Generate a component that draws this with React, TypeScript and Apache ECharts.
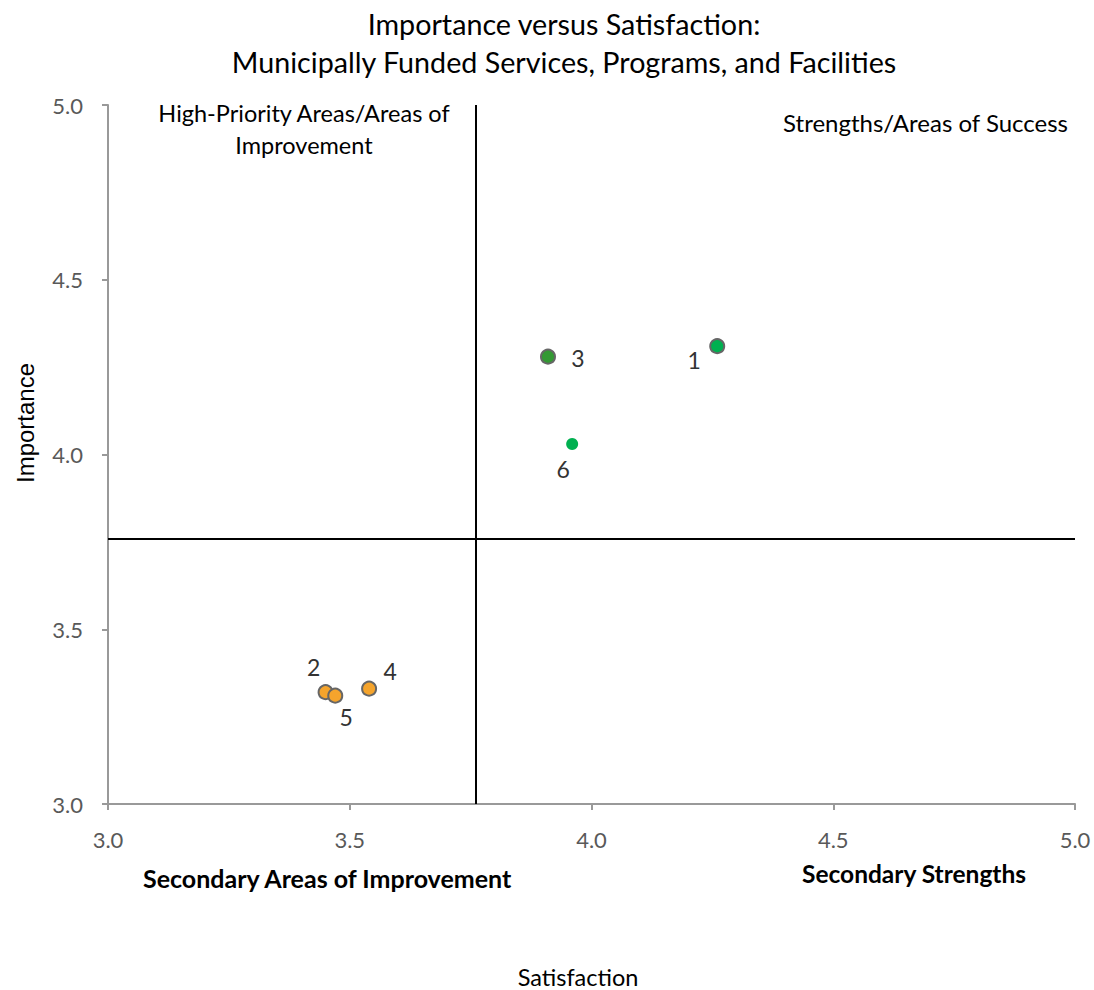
import React, { useEffect, useRef } from "react";
import * as echarts from "echarts";

const ids = ["1", "2", "3", "4", "5", "6"];
const satisfaction = [4.26, 3.45, 3.91, 3.54, 3.47, 3.96];
const importance = [4.31, 3.32, 4.28, 3.33, 3.31, 4.03];
const groups = ["strength", "secondary", "strengthDark", "secondary", "secondary", "strengthPlain"];
const meanSatisfaction = 3.76;
const meanImportance = 3.76;

const groupStyle: Record<string, any> = {
  strength: { color: "#00B050", borderColor: "#666666", borderWidth: 2, size: 14 },
  strengthDark: { color: "#339933", borderColor: "#666666", borderWidth: 2, size: 14 },
  strengthPlain: { color: "#00B050", borderColor: "#00B050", borderWidth: 0, size: 12 },
  secondary: { color: "#F5A42C", borderColor: "#666666", borderWidth: 2, size: 14 },
};
const labelOffsets: Record<string, number[]> = {
  "1": [-23, 14],
  "2": [-12, -25],
  "3": [30, 1],
  "4": [21, -18],
  "5": [11, 21],
  "6": [-9, 25],
};

const FONT = "Lato, 'Open Sans', sans-serif";

export default function App() {
  const ref = useRef<HTMLDivElement>(null);
  useEffect(() => {
    const chart = echarts.init(ref.current!, undefined, { renderer: "svg" });
    const data = ids.map((id, i) => {
      const st = groupStyle[groups[i]];
      return {
        value: [satisfaction[i], importance[i]],
        name: id,
        symbolSize: st.size,
        itemStyle: { color: st.color, borderColor: st.borderColor, borderWidth: st.borderWidth, opacity: 1 },
        label: {
          show: true,
          formatter: id,
          position: "inside",
          offset: labelOffsets[id],
          fontSize: 23,
          color: "#333333",
          fontFamily: FONT,
        },
      };
    });
    chart.setOption({
      animation: false,
      backgroundColor: "#ffffff",
      title: {
        text: "Importance versus Satisfaction:\nMunicipally Funded Services, Programs, and Facilities",
        left: 559,
        textAlign: "center",
        top: 0,
        textStyle: { fontSize: 28.7, fontWeight: "normal", color: "#000000", fontFamily: FONT, lineHeight: 38 },
      },
      grid: { left: 108, right: 19, top: 105, bottom: 186, outerBoundsMode: "none", containLabel: false },
      xAxis: {
        type: "value",
        min: 3,
        max: 5,
        interval: 0.5,
        axisLine: { show: true, lineStyle: { color: "#999999", width: 2 } },
        axisTick: { show: true, length: 6, lineStyle: { color: "#999999", width: 2 } },
        axisLabel: {
          fontSize: 22,
          color: "#595959",
          fontFamily: FONT,
          margin: 24,
          formatter: (v: number) => v.toFixed(1),
        },
        splitLine: { show: false },
      },
      yAxis: {
        type: "value",
        min: 3,
        max: 5,
        interval: 0.5,
        axisLine: { show: true, lineStyle: { color: "#999999", width: 2 } },
        axisTick: { show: true, length: 6, lineStyle: { color: "#999999", width: 2 } },
        axisLabel: {
          fontSize: 22,
          color: "#595959",
          fontFamily: FONT,
          margin: 25,
          formatter: (v: number) => v.toFixed(1),
        },
        splitLine: { show: false },
      },
      series: [
        {
          type: "scatter",
          data,
          z: 5,
          markLine: {
            silent: true,
            symbol: "none",
            label: { show: false },
            lineStyle: { color: "#000000", width: 2, type: "solid" },
            data: [{ xAxis: meanSatisfaction }, { yAxis: meanImportance }],
            z: 1,
          },
        },
      ],
      graphic: [
        {
          type: "text",
          x: 578,
          y: 977,
          style: {
            text: "Satisfaction",
            align: "center",
            verticalAlign: "middle",
            fontSize: 23.5,
            fill: "#000000",
            fontFamily: FONT,
          },
          z: 10,
        },
        {
          type: "text",
          x: 25,
          y: 423,
          rotation: Math.PI / 2,
          style: {
            text: "Importance",
            align: "center",
            verticalAlign: "middle",
            fontSize: 24,
            fill: "#000000",
            fontFamily: "'Liberation Sans', Arial, sans-serif",
          },
          z: 10,
        },
        {
          type: "text",
          x: 304,
          y: 97,
          style: {
            text: "High-Priority Areas/Areas of\nImprovement",
            align: "center",
            verticalAlign: "top",
            fontSize: 23.5,
            lineHeight: 32,
            fill: "#000000",
            fontFamily: FONT,
          },
          z: 10,
        },
        {
          type: "text",
          x: 1068,
          y: 110,
          style: {
            text: "Strengths/Areas of Success",
            align: "right",
            verticalAlign: "top",
            fontSize: 24,
            fill: "#000000",
            fontFamily: FONT,
          },
          z: 10,
        },
        {
          type: "text",
          x: 143,
          y: 865,
          style: {
            text: "Secondary Areas of Improvement",
            verticalAlign: "top",
            fontSize: 25,
            fontWeight: "bold",
            fill: "#000000",
            fontFamily: FONT,
          },
          z: 10,
        },
        {
          type: "text",
          x: 802,
          y: 861,
          style: {
            text: "Secondary Strengths",
            verticalAlign: "top",
            fontSize: 24.5,
            fontWeight: "bold",
            fill: "#000000",
            fontFamily: FONT,
          },
          z: 10,
        },
      ],
    });
    return () => chart.dispose();
  }, []);
  return <div ref={ref} style={{ width: 1094, height: 990, position: "absolute", left: 0, top: 0 }} />;
}
